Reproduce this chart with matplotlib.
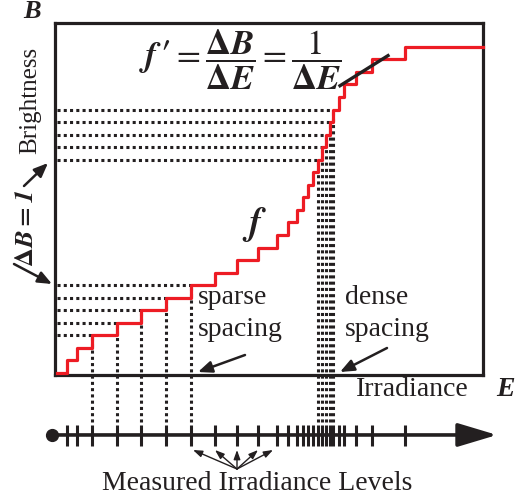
import matplotlib
matplotlib.use('Agg')
import matplotlib.pyplot as plt

plt.rcParams['font.family'] = ['Liberation Serif', 'DejaVu Serif']
plt.rcParams['mathtext.fontset'] = 'stix'

# measured irradiance levels (E where f steps up one brightness level)
E_levels = [10, 20, 35, 60, 84, 109, 134, 158, 180, 201, 220, 231, 240, 245.5,
            251, 256, 261, 265, 269, 273, 276, 282, 287, 299, 315, 348]
E_max = 426
B_levels = list(range(len(E_levels) + 1))
sparse_levels = [3, 4, 5, 6, 7]
dense_levels = [17, 18, 19, 20, 21]

W, H = 515, 503
fig = plt.figure(figsize=(W / 100, H / 100), dpi=100)

# box in pixels: x 55..483, y 23..375
ax = fig.add_axes([55 / W, 1 - 375 / H, (483 - 55) / W, (375 - 23) / H])
ax.set_xlim(-2, E_max)
ax.set_ylim(-0.16, 27.9)
ax.set_xticks([])
ax.set_yticks([])
for s in ax.spines.values():
    s.set_linewidth(2.3)
    s.set_color('#231f20')

def fpx(x, y):
    return (x / W, 1 - y / H)

# staircase f
xs = [0] + E_levels + [E_max]
ys = B_levels + [B_levels[-1]]
ax.step(xs, ys, where='post', color='#ed1c24', lw=2.3, zorder=3, clip_on=False)

dots = dict(color='#231f20', lw=2.2, linestyle=(0, (1, 1.05)), clip_on=False)
y_line = -4.94
for k in sparse_levels + dense_levels:
    ax.hlines(k, 0, E_levels[k - 1], **dots)
    ax.vlines(E_levels[k - 1], -3.9, k, **dots)

# tangent line
ax.plot([283, 331], [22.9, 25.3], color='#231f20', lw=2.4, zorder=4)

# number line
ax.annotate('', xy=(440, y_line), xytext=(-5, y_line), annotation_clip=False,
            arrowprops=dict(arrowstyle='-|>,head_length=1.1,head_width=0.33',
                            lw=2.6, color='#231f20', mutation_scale=22,
                            shrinkA=0, shrinkB=0))
ax.plot([-5], [y_line], 'o', ms=8.5, color='#231f20', clip_on=False)
ax.vlines(E_levels, y_line + 0.8, y_line - 0.9, color='#231f20', lw=2.2, clip_on=False)

# text
tc = '#231f20'
fig.text(*fpx(32, 11), 'B', fontsize=19, fontweight='bold', style='italic',
         ha='center', va='center', color=tc)
fig.text(*fpx(30, 100), 'Brightness', fontsize=18, rotation=90, ha='center', va='center', color=tc)
fig.text(*fpx(27, 228), r'$\mathbf{\Delta}\mathbfit{B}\mathbf{=}\mathbfit{1}$', fontsize=19,
         rotation=90, ha='center', va='center', color=tc)
fig.text(*fpx(412, 390), 'Irradiance', fontsize=20, ha='center', va='center', color=tc)
fig.text(*fpx(505, 390), 'E', fontsize=20, fontweight='bold', style='italic',
         ha='center', va='center', color=tc)
fig.text(*fpx(257, 484), 'Measured Irradiance Levels', fontsize=20, ha='center', va='center', color=tc)
fig.text(*fpx(198, 297), 'sparse', fontsize=20, ha='left', va='center', color=tc)
fig.text(*fpx(198, 330), 'spacing', fontsize=20, ha='left', va='center', color=tc)
fig.text(*fpx(345, 297), 'dense', fontsize=20, ha='left', va='center', color=tc)
fig.text(*fpx(345, 330), 'spacing', fontsize=20, ha='left', va='center', color=tc)
fig.text(*fpx(255, 224), r'$\mathbfit{f}$', fontsize=27, ha='center', va='center', color=tc)
fig.text(*fpx(240, 60),
         r'$\mathbfit{f}\,\mathbf{\prime}=\dfrac{\mathbf{\Delta}\mathbfit{B}}{\mathbf{\Delta}\mathbfit{E}}'
         r'=\dfrac{1}{\mathbf{\Delta}\mathbfit{E}}$',
         fontsize=25, ha='center', va='center', color=tc)

# arrows
arr = dict(arrowstyle='-|>,head_length=0.6,head_width=0.25', lw=1.8, color=tc,
           mutation_scale=14, shrinkA=0, shrinkB=0)
for tail, head in [((245, 355), (198, 372)), ((387, 348), (340, 372)),
                   ((24, 186), (48, 163)), ((14, 264), (52, 284))]:
    fig.add_artist(matplotlib.patches.FancyArrowPatch(fpx(*tail), fpx(*head),
                                                      transform=fig.transFigure, **arr))
fan = dict(arrowstyle='-|>,head_length=0.5,head_width=0.18', lw=1.0, color=tc,
           mutation_scale=11, shrinkA=0, shrinkB=0)
for hx in [193, 215, 237, 258, 273]:
    fig.add_artist(matplotlib.patches.FancyArrowPatch(fpx(237, 469), fpx(hx, 450),
                                                      transform=fig.transFigure, **fan))

fig.savefig('out.png', dpi=100)
